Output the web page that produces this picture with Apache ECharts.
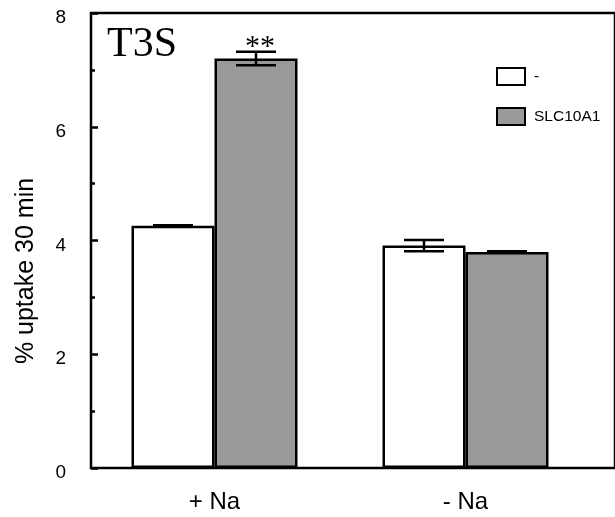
<!DOCTYPE html>
<html>
<head>
<meta charset="utf-8">
<script src="https://cdn.jsdelivr.net/npm/echarts@6/dist/echarts.min.js"></script>
<style>html,body{margin:0;padding:0;background:#fff;}#chart{width:615px;height:517px;}</style>
</head>
<body>
<div id="chart"></div>
<script>
var categories = ['+ Na', '- Na'];
var seriesNames = ['-', 'SLC10A1'];
var controlValues = [4.26, 3.91];
var controlErrors = [0.01, 0.10];
var slcValues = [7.20, 3.80];
var slcErrors = [0.12, 0.01];
var slcSignificance = ['**', ''];
var yTicks = [0, 2, 4, 6, 8];

var BAR_W = 83;
var chart = echarts.init(document.getElementById('chart'));

function errorRender(offset) {
  return function (params, api) {
    var x = api.value(0), y = api.value(1), e = api.value(2);
    var hi = api.coord([x, y + e]);
    var lo = api.coord([x, y - e]);
    var cx = hi[0] + offset;
    var half = 20;
    var st = {stroke: '#000', lineWidth: 2.5};
    var children = [
      {type: 'line', shape: {x1: cx, y1: hi[1], x2: cx, y2: lo[1]}, style: st},
      {type: 'line', shape: {x1: cx - half, y1: hi[1], x2: cx + half, y2: hi[1]}, style: st},
      {type: 'line', shape: {x1: cx - half, y1: lo[1], x2: cx + half, y2: lo[1]}, style: st}
    ];
    var sig = api.value(3);
    if (sig) {
      children.push({type: 'text', x: cx + 4, y: hi[1] + 10, style: {text: String(sig), font: '30px "Liberation Serif"', fill: '#000', align: 'center', verticalAlign: 'bottom'}});
    }
    return {type: 'group', children: children};
  };
}

var ctrlErrData = categories.map(function (c, i) { return [i, controlValues[i], controlErrors[i], '']; });
var slcErrData = categories.map(function (c, i) { return [i, slcValues[i], slcErrors[i], slcSignificance[i]]; });

var option = {
  animation: false,
  backgroundColor: '#fff',
  grid: [
    {left: 89, right: 24, top: 13, bottom: 49},
    {left: 91, right: -20, top: 13, bottom: 49, show: true, borderColor: '#000', borderWidth: 2.5, backgroundColor: 'transparent', z: 10}
  ],
  xAxis: [
    {type: 'category', gridIndex: 0, data: categories,
     axisLine: {show: false}, axisTick: {show: false},
     axisLabel: {margin: 22, fontSize: 24, color: '#000', fontFamily: '"Liberation Sans", Arial'}},
    {type: 'value', gridIndex: 1, min: 0, max: 1, show: false}
  ],
  yAxis: [
    {type: 'value', gridIndex: 0, min: 0, max: 8, show: false},
    {type: 'value', gridIndex: 1, min: 0, max: 8, interval: 2,
     axisLine: {show: false},
     axisTick: {show: true, inside: true, length: 7, lineStyle: {color: '#000', width: 2.5}},
     minorTick: {show: true, splitNumber: 2, length: 4, lineStyle: {color: '#000', width: 2.5}},
     splitLine: {show: false},
     axisLabel: {margin: 25, fontSize: 19, color: '#000', fontFamily: '"Liberation Sans", Arial',
       verticalAlign: 'top', lineHeight: 10,
       formatter: function (v) { return yTicks.indexOf(v) >= 0 ? String(v) : ''; }}}
  ],
  legend: {
    orient: 'vertical', left: 496, top: 67, padding: 0, itemWidth: 28, itemHeight: 17, itemGap: 21,
    icon: 'rect',
    itemStyle: {borderColor: '#000', borderWidth: 2},
    textStyle: {fontSize: 15.5, color: '#000', fontFamily: '"Liberation Sans", Arial', padding: [0, 0, 0, 4]},
    data: seriesNames
  },
  graphic: [
    {type: 'text', left: 107, top: 24, style: {text: 'T3S', font: '42px "Liberation Serif"', fill: '#000'}},
    {type: 'text', x: 26, y: 271, rotation: Math.PI / 2, style: {text: '% uptake 30 min', font: '25px "Liberation Sans"', fill: '#000', align: 'center', verticalAlign: 'middle'}}
  ],
  series: [
    {name: seriesNames[0], type: 'bar', xAxisIndex: 0, yAxisIndex: 0, data: controlValues,
     barWidth: BAR_W, barGap: '0%', itemStyle: {color: '#ffffff', borderColor: '#000', borderWidth: 2.5}},
    {name: seriesNames[1], type: 'bar', xAxisIndex: 0, yAxisIndex: 0, data: slcValues,
     barWidth: BAR_W, barGap: '0%', itemStyle: {color: '#999999', borderColor: '#000', borderWidth: 2.5}},
    {type: 'custom', xAxisIndex: 0, yAxisIndex: 0, renderItem: errorRender(-BAR_W / 2), data: ctrlErrData, z: 5, silent: true},
    {type: 'custom', xAxisIndex: 0, yAxisIndex: 0, renderItem: errorRender(BAR_W / 2), data: slcErrData, z: 5, silent: true}
  ]
};
chart.setOption(option);
</script>
</body>
</html>
